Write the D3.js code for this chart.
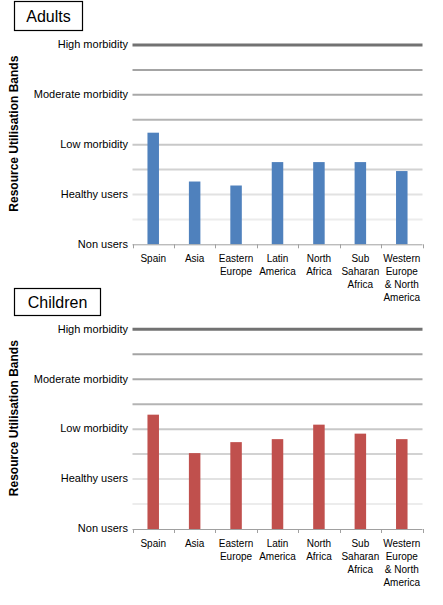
<!DOCTYPE html>
<html>
<head>
<meta charset="utf-8">
<script src="https://cdn.jsdelivr.net/npm/d3@7"></script>
<style>
  html, body { margin: 0; padding: 0; background: #fff; }
  svg { display: block; }
</style>
</head>
<body>
<div id="chart"></div>
<script>
// ---- Data ----
const categories = ["Spain", "Asia", "Eastern Europe", "Latin America", "North Africa", "Sub Saharan Africa", "Western Europe & North America"];
const categoryLines = [["Spain"], ["Asia"], ["Eastern", "Europe"], ["Latin", "America"], ["North", "Africa"], ["Sub", "Saharan", "Africa"], ["Western", "Europe", "& North", "America"]];
const adultsValues = [2.24, 1.26, 1.18, 1.65, 1.65, 1.65, 1.47];
const childrenValues = [2.29, 1.52, 1.74, 1.80, 2.09, 1.91, 1.80];
const bandLabels = ["Non users", "Healthy users", "Low morbidity", "Moderate morbidity", "High morbidity"];
const bandValues = [0, 1, 2, 3, 4];
const gridValues = [0.5, 1, 1.5, 2, 2.5, 3, 3.5, 4];
const panelTitles = ["Adults", "Children"];
const yAxisTitle = "Resource Utilisation Bands";

// ---- Styles ----
const gridColor = {0.5: "#ececec", 1: "#e2e2e2", 1.5: "#d2d2d2", 2: "#c8c8c8", 2.5: "#b4b4b4", 3: "#a8a8a8", 3.5: "#a4a4a4", 4: "#727272"};
const gridWidth = {4: 3};
const barColors = ["#4f81bd", "#c0504d"];

const W = 443, H = 605;
const svg = d3.select("#chart").append("svg").attr("width", W).attr("height", H)
  .style("font-family", "'Liberation Sans', Arial, sans-serif");

const panels = [
  {title: panelTitles[0], values: adultsValues, color: barColors[0], top: 45, bottom: 244.3, box: [14, 1, 68, 29], titleY: 22},
  {title: panelTitles[1], values: childrenValues, color: barColors[1], top: 329.3, bottom: 529, box: [14, 288, 86, 27], titleY: 307.5}
];

const x = d3.scaleBand().domain(categories).range([132.5, 422.5]).padding(0);

panels.forEach(p => {
  const g = svg.append("g");
  const y = d3.scaleLinear().domain([0, 4]).range([p.bottom, p.top]);

  // title box
  g.append("rect").attr("x", p.box[0] + 0.5).attr("y", p.box[1] + 0.5)
    .attr("width", p.box[2]).attr("height", p.box[3])
    .attr("fill", "#fff").attr("stroke", "#000").attr("stroke-width", 1.2);
  g.append("text").attr("x", p.box[0] + p.box[2] / 2 + 0.5).attr("y", p.titleY)
    .attr("text-anchor", "middle").attr("font-size", 16).attr("fill", "#000")
    .text(p.title);

  // gridlines
  g.selectAll(".grid").data(gridValues).enter().append("line")
    .attr("x1", x.range()[0]).attr("x2", x.range()[1])
    .attr("y1", d => y(d)).attr("y2", d => y(d))
    .attr("stroke", d => gridColor[d]).attr("stroke-width", d => gridWidth[d] || 2);

  // y labels
  g.selectAll(".ylab").data(bandValues).enter().append("text")
    .attr("x", 128).attr("y", d => y(d)).attr("dy", "0.3em")
    .attr("text-anchor", "end").attr("font-size", 11).attr("fill", "#000")
    .text((d, i) => bandLabels[i]);

  // bars
  const bw = 11.5;
  g.selectAll(".bar").data(p.values).enter().append("rect")
    .attr("x", (d, i) => x(categories[i]) + x.bandwidth() / 2 - bw / 2)
    .attr("y", d => y(d)).attr("width", bw).attr("height", d => y(0) - y(d))
    .attr("fill", p.color);

  // x axis line and ticks
  g.append("line").attr("x1", x.range()[0]).attr("x2", x.range()[1])
    .attr("y1", y(0) + 0.5).attr("y2", y(0) + 0.5).attr("stroke", "#a0a0a0").attr("stroke-width", 1);
  const tickX = categories.map(c => x(c)).concat([x.range()[1]]);
  g.selectAll(".tick").data(tickX).enter().append("line")
    .attr("x1", d => Math.round(d) + 0.5).attr("x2", d => Math.round(d) + 0.5)
    .attr("y1", y(0)).attr("y2", y(0) + 4).attr("stroke", "#a0a0a0");

  // category labels
  const cl = g.selectAll(".cat").data(categories).enter().append("text")
    .attr("x", d => x(d) + x.bandwidth() / 2)
    .attr("y", y(0) + 17.5)
    .attr("text-anchor", "middle").attr("font-size", 10).attr("fill", "#000");
  cl.each(function(d, i) {
    const t = d3.select(this);
    categoryLines[i].forEach((ln, j) => {
      t.append("tspan").attr("x", x(d) + x.bandwidth() / 2).attr("dy", j === 0 ? 0 : 13).text(ln);
    });
  });

  // y axis title
  const cy = (p.top + p.bottom) / 2 - 11;
  g.append("text").attr("transform", `translate(17.5,${cy}) rotate(-90)`)
    .attr("text-anchor", "middle").attr("font-size", 12).attr("font-weight", "bold")
    .attr("fill", "#000").text(yAxisTitle);
});
</script>
</body>
</html>
